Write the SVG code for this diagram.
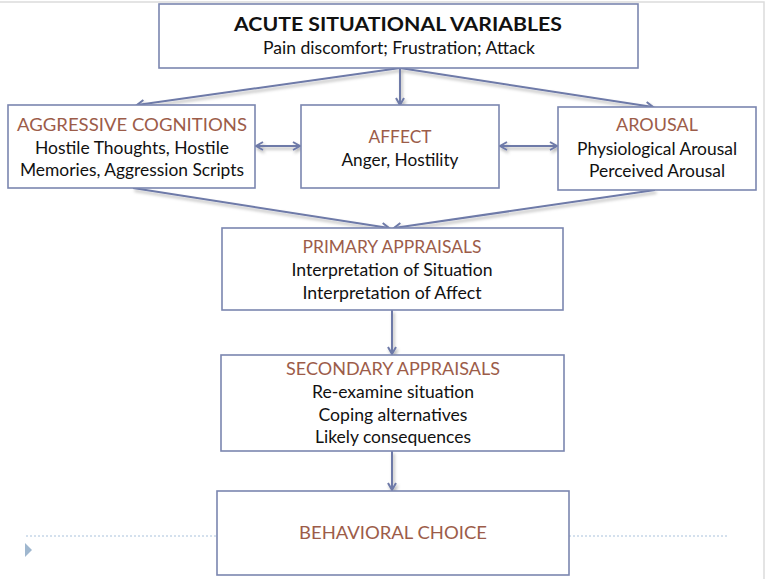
<svg xmlns="http://www.w3.org/2000/svg" width="768" height="579" viewBox="0 0 768 579">
<style>
.box{fill:#ffffff;stroke:#7b86b0;stroke-width:1.6}
.t{font-family:Lato,"Open Sans","Liberation Sans",sans-serif;font-size:17px;fill:#111111;text-anchor:middle}
.h{fill:#9c5c49}
.b{font-weight:bold;font-size:19px}
.c{fill:none;stroke:#6e7aa8;stroke-width:2}
</style>
<defs>
<marker id="ah" markerWidth="12" markerHeight="12" refX="9" refY="5" orient="auto-start-reverse" markerUnits="userSpaceOnUse">
<path d="M2,1 L9,5 L2,9" fill="none" stroke="#6e7aa8" stroke-width="2"/>
</marker>
<filter id="sh" x="-20%" y="-20%" width="140%" height="160%">
<feDropShadow dx="1.5" dy="2.5" stdDeviation="1.5" flood-color="#000" flood-opacity="0.3"/>
</filter>
</defs>
<rect width="768" height="579" fill="#ffffff"/>
<path d="M0,2 H764 V579" fill="none" stroke="#dcdcdc" stroke-width="1.5"/>
<g id="footer">
<line x1="26" y1="536" x2="217" y2="536" stroke="#a9c2dc" stroke-width="1" stroke-dasharray="2,2"/>
<line x1="569" y1="536" x2="727" y2="536" stroke="#a9c2dc" stroke-width="1" stroke-dasharray="2,2"/>
<polygon points="25,543 32,550 25,557" fill="#9fb7cf"/>
</g>
<g id="connectors" filter="url(#sh)">
<line class="c" x1="400" y1="68" x2="137" y2="105" marker-end="url(#ah)"/>
<line class="c" x1="400" y1="68" x2="400" y2="105" marker-end="url(#ah)"/>
<line class="c" x1="400" y1="68" x2="653" y2="107" marker-end="url(#ah)"/>
<line class="c" x1="256" y1="146" x2="300" y2="146" marker-start="url(#ah)" marker-end="url(#ah)"/>
<line class="c" x1="500" y1="146" x2="557" y2="146" marker-start="url(#ah)" marker-end="url(#ah)"/>
<line class="c" x1="133" y1="188" x2="389" y2="228" marker-end="url(#ah)"/>
<line class="c" x1="655" y1="190" x2="394" y2="228" marker-end="url(#ah)"/>
<line class="c" x1="392" y1="310" x2="392" y2="354" marker-end="url(#ah)"/>
<line class="c" x1="392" y1="451" x2="392" y2="490" marker-end="url(#ah)"/>
</g>
<g id="acute">
<rect class="box" x="159" y="4" width="479" height="64"/>
<text class="t b" x="398" y="31" textLength="328" lengthAdjust="spacingAndGlyphs">ACUTE SITUATIONAL VARIABLES</text>
<text class="t" x="399" y="54" textLength="272" lengthAdjust="spacingAndGlyphs">Pain discomfort; Frustration; Attack</text>
</g>
<g id="cognitions">
<rect class="box" x="8" y="105" width="247" height="83"/>
<text class="t h" x="132" y="131" textLength="230" lengthAdjust="spacingAndGlyphs">AGGRESSIVE COGNITIONS</text>
<text class="t" x="132" y="154" textLength="194" lengthAdjust="spacingAndGlyphs">Hostile Thoughts, Hostile</text>
<text class="t" x="132" y="176" textLength="224" lengthAdjust="spacingAndGlyphs">Memories, Aggression Scripts</text>
</g>
<g id="affect">
<rect class="box" x="301" y="105" width="198" height="83"/>
<text class="t h" x="400" y="143" textLength="63" lengthAdjust="spacingAndGlyphs">AFFECT</text>
<text class="t" x="400" y="166" textLength="117" lengthAdjust="spacingAndGlyphs">Anger, Hostility</text>
</g>
<g id="arousal">
<rect class="box" x="558" y="107" width="198" height="83"/>
<text class="t h" x="657" y="131" textLength="82" lengthAdjust="spacingAndGlyphs">AROUSAL</text>
<text class="t" x="657" y="155" textLength="160" lengthAdjust="spacingAndGlyphs">Physiological Arousal</text>
<text class="t" x="657" y="177" textLength="136" lengthAdjust="spacingAndGlyphs">Perceived Arousal</text>
</g>
<g id="primary">
<rect class="box" x="222" y="228" width="341" height="82"/>
<text class="t h" x="392" y="253" textLength="179" lengthAdjust="spacingAndGlyphs">PRIMARY APPRAISALS</text>
<text class="t" x="392" y="276" textLength="201" lengthAdjust="spacingAndGlyphs">Interpretation of Situation</text>
<text class="t" x="392" y="299" textLength="179" lengthAdjust="spacingAndGlyphs">Interpretation of Affect</text>
</g>
<g id="secondary">
<rect class="box" x="221" y="355" width="343" height="96"/>
<text class="t h" x="393" y="375" textLength="214" lengthAdjust="spacingAndGlyphs">SECONDARY APPRAISALS</text>
<text class="t" x="393" y="398" textLength="162" lengthAdjust="spacingAndGlyphs">Re-examine situation</text>
<text class="t" x="393" y="421" textLength="149" lengthAdjust="spacingAndGlyphs">Coping alternatives</text>
<text class="t" x="393" y="443" textLength="156" lengthAdjust="spacingAndGlyphs">Likely consequences</text>
</g>
<g id="behavioral">
<rect class="box" x="217" y="491" width="352" height="84"/>
<text class="t h" x="393" y="539" textLength="188" lengthAdjust="spacingAndGlyphs">BEHAVIORAL CHOICE</text>
</g>
</svg>
